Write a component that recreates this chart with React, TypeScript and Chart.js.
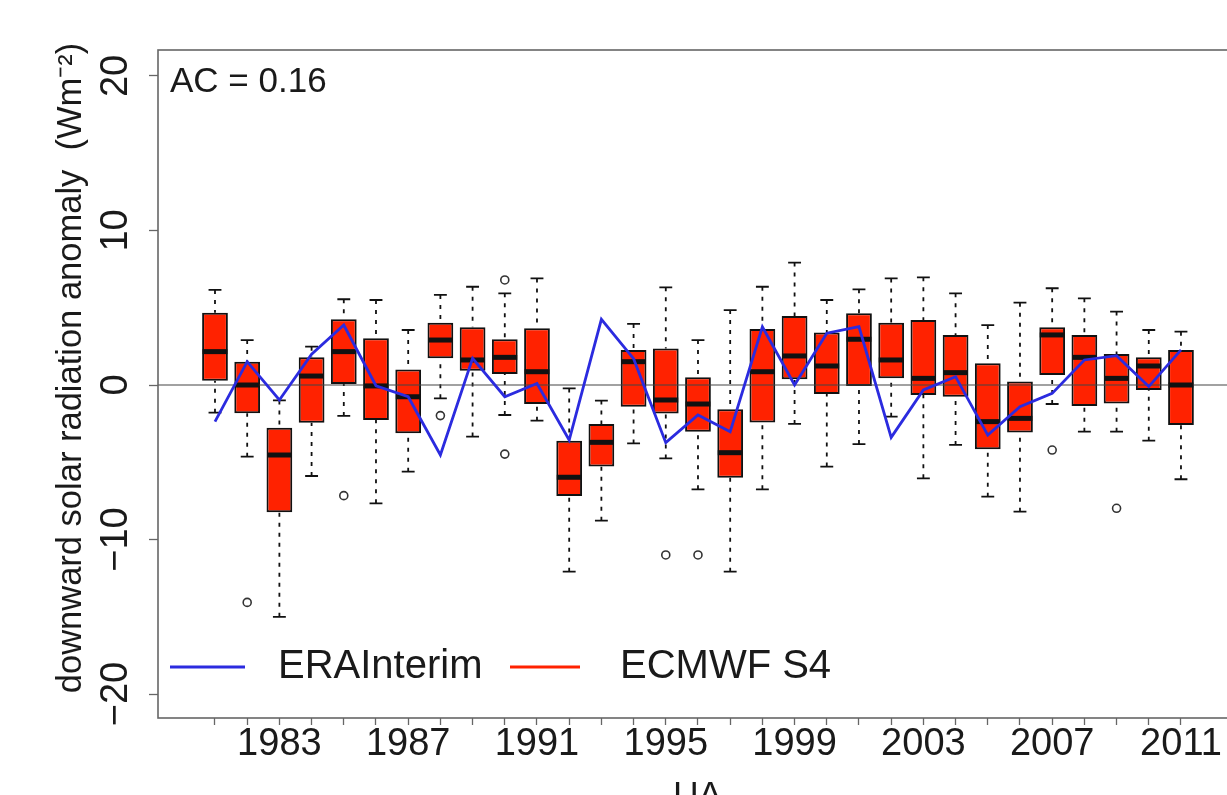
import { useEffect, useRef } from 'react';
import { Chart, registerables } from 'chart.js';

Chart.register(...registerables);

// ---------- data ----------
const years = [
  1981, 1982, 1983, 1984, 1985, 1986, 1987, 1988, 1989, 1990,
  1991, 1992, 1993, 1994, 1995, 1996, 1997, 1998, 1999, 2000,
  2001, 2002, 2003, 2004, 2005, 2006, 2007, 2008, 2009, 2010, 2011,
];
const whiskerHigh = [
  6.15, 2.91, -1.0, 2.48, 5.55, 5.5, 3.56, 5.83, 6.36, 5.93,
  6.9, -0.22, -1.01, 3.95, 6.32, 2.91, 4.85, 6.36, 7.92, 5.5,
  6.19, 6.9, 6.97, 5.93, 3.88, 5.33, 6.26, 5.61, 4.75, 3.56, 3.45,
];
const upperQuartile = [
  4.68, 1.51, -2.76, 1.79, 4.25, 3.02, 1.01, 4.03, 3.73, 2.96,
  3.67, -3.6, -2.52, 2.27, 2.37, 0.5, -1.57, 3.62, 4.47, 3.39,
  4.64, 4.03, 4.21, 3.24, 1.4, 0.22, 3.73, 3.24, 2.0, 1.79, 2.27,
];
const medians = [
  2.16, 0.0, -4.53, 0.58, 2.16, -0.06, -0.76, 2.91, 1.62, 1.79,
  0.86, -5.97, -3.71, 1.51, -0.97, -1.23, -4.38, 0.86, 1.88, 1.23,
  2.96, 1.62, 0.43, 0.8, -2.37, -2.16, 3.24, 1.79, 0.43, 1.23, 0.0,
];
const lowerQuartile = [
  0.28, -1.83, -8.24, -2.44, 0.06, -2.27, -3.13, 1.73, 0.93, 0.71,
  -1.23, -7.18, -5.28, -1.4, -1.84, -3.02, -6.0, -2.42, 0.37, -0.58,
  -0.06, 0.43, -0.65, -0.76, -4.16, -3.08, 0.65, -1.36, -1.19, -0.32, -2.59,
];
const whiskerLow = [
  -1.79, -4.64, -15.0, -5.89, -2.0, -7.66, -5.61, -0.86, -3.34, -1.94,
  -2.31, -12.08, -8.78, -3.78, -4.75, -6.75, -12.08, -6.75, -2.52, -5.28,
  -3.82, -2.05, -6.04, -3.88, -7.23, -8.2, -1.23, -3.02, -3.02, -3.6, -6.1,
];
const outlierYears = [1982, 1985, 1988, 1990, 1990, 1995, 1996, 2007, 2009];
const outlierValues = [-14.07, -7.16, -1.98, 6.8, -4.47, -11.0, -11.0, -4.21, -7.98];
const eraInterim = [
  -2.37, 1.51, -0.97, 2.0, 3.88, -0.05, -0.76, -4.53, 1.73, -0.76,
  0.1, -3.56, 4.25, 1.7, -3.73, -1.94, -3.02, 3.77, 0.0, 3.35,
  3.77, -3.39, -0.32, 0.54, -3.24, -1.4, -0.54, 1.62, 1.9, -0.1, 2.27,
];
const yTickValues = [-20, -10, 0, 10, 20];
const labelledYears = [1983, 1987, 1991, 1995, 1999, 2003, 2007, 2011];
const seriesNames = ['ERAInterim', 'ECMWF S4'];
const acLabel = 'AC = 0.16';
const yTitle = 'downward solar radiation anomaly  (Wm\u207B\u00B2)';
const xTitle = 'UA';

// ---------- styles ----------
const FONT = "'Liberation Sans', Arial, Helvetica, sans-serif";
const RED = '#ff2200';
const BLUE = '#2b2bdf';
const INK = '#1a1a1a';
const FRAME = '#666666';

const whiskerPlugin = {
  id: 'whiskers',
  beforeDatasetsDraw(chart: any) {
    const xs = chart.scales.x;
    const ys = chart.scales.y;
    const ctx = chart.ctx;
    const step = xs.getPixelForValue(years[1]) - xs.getPixelForValue(years[0]);
    const half = step * 0.8 * 0.25;
    ctx.save();
    ctx.strokeStyle = '#111';
    ctx.lineWidth = 1.8;
    years.forEach((yr, i) => {
      const x = xs.getPixelForValue(yr);
      const yHi = ys.getPixelForValue(whiskerHigh[i]);
      const yQ3 = ys.getPixelForValue(upperQuartile[i]);
      const yQ1 = ys.getPixelForValue(lowerQuartile[i]);
      const yLo = ys.getPixelForValue(whiskerLow[i]);
      ctx.setLineDash([4, 6]);
      ctx.beginPath();
      ctx.moveTo(x, yHi);
      ctx.lineTo(x, yQ3);
      ctx.moveTo(x, yLo);
      ctx.lineTo(x, yQ1);
      ctx.stroke();
      ctx.setLineDash([]);
      ctx.beginPath();
      ctx.moveTo(x - half, yHi);
      ctx.lineTo(x + half, yHi);
      ctx.moveTo(x - half, yLo);
      ctx.lineTo(x + half, yLo);
      ctx.stroke();
    });
    ctx.restore();
  },
  afterDatasetDraw(chart: any, args: any) {
    if (args.index !== 0) return;
    const { ctx, chartArea } = chart;
    const y0 = chart.scales.y.getPixelForValue(0);
    ctx.save();
    ctx.strokeStyle = '#444';
    ctx.lineWidth = 1.2;
    ctx.beginPath();
    ctx.moveTo(chartArea.left, y0);
    ctx.lineTo(chartArea.right, y0);
    ctx.stroke();
    ctx.restore();
  },
};

const framePlugin = {
  id: 'frameAndText',
  afterDraw(chart: any) {
    const { ctx, chartArea } = chart;
    ctx.save();
    ctx.strokeStyle = FRAME;
    ctx.lineWidth = 1.6;
    ctx.strokeRect(chartArea.left, chartArea.top, chartArea.right - chartArea.left, chartArea.bottom - chartArea.top);

    // y-axis title
    ctx.save();
    ctx.translate(71, chartArea.top + 318);
    ctx.rotate(-Math.PI / 2);
    ctx.fillStyle = INK;
    ctx.font = `34.5px ${FONT}`;
    ctx.textAlign = 'center';
    ctx.textBaseline = 'middle';
    ctx.fillText(yTitle, 0, 0);
    ctx.restore();

    // AC label
    ctx.fillStyle = INK;
    ctx.font = `35px ${FONT}`;
    ctx.textBaseline = 'alphabetic';
    ctx.textAlign = 'left';
    ctx.fillText(acLabel, chartArea.left + 12, chartArea.top + 42);

    // legend
    const ly = 667;
    const left = chartArea.left;
    ctx.lineWidth = 2.8;
    ctx.strokeStyle = BLUE;
    ctx.beginPath();
    ctx.moveTo(left + 12, ly);
    ctx.lineTo(left + 87, ly);
    ctx.stroke();
    ctx.strokeStyle = RED;
    ctx.beginPath();
    ctx.moveTo(left + 352, ly);
    ctx.lineTo(left + 422, ly);
    ctx.stroke();
    ctx.font = `40px ${FONT}`;
    ctx.textBaseline = 'middle';
    ctx.fillText(seriesNames[0], left + 120, ly);
    ctx.fillText(seriesNames[1], left + 462, ly);
    ctx.restore();
  },
};

export default function App() {
  const ref = useRef<HTMLCanvasElement>(null);

  useEffect(() => {
    const canvas = ref.current;
    if (!canvas) return;
    const chart = new Chart(canvas, {
      type: 'bar',
      data: {
        datasets: [
          {
            type: 'bar',
            label: seriesNames[1],
            data: years.map((yr, i) => ({ x: yr, y: [lowerQuartile[i], upperQuartile[i]] })) as any,
            backgroundColor: RED,
            borderColor: '#111',
            borderWidth: 2,
            borderSkipped: false,
            barPercentage: 0.8,
            categoryPercentage: 1.0,
            order: 4,
          } as any,
          {
            type: 'line',
            label: 'median',
            data: years.map((yr, i) => ({ x: yr, y: medians[i] })),
            showLine: false,
            pointStyle: 'line',
            pointRadius: 12.4,
            pointBorderWidth: 5,
            pointBorderColor: '#111',
            pointBackgroundColor: '#111',
            order: 3,
          } as any,
          {
            type: 'line',
            label: 'outliers',
            data: outlierYears.map((yr, i) => ({ x: yr, y: outlierValues[i] })),
            showLine: false,
            pointStyle: 'circle',
            pointRadius: 4,
            pointBorderWidth: 1.6,
            pointBorderColor: '#333',
            pointBackgroundColor: 'rgba(0,0,0,0)',
            order: 2,
          } as any,
          {
            type: 'line',
            label: seriesNames[0],
            data: years.map((yr, i) => ({ x: yr, y: eraInterim[i] })),
            borderColor: BLUE,
            borderWidth: 2.8,
            pointRadius: 0,
            tension: 0,
            fill: false,
            order: 1,
          } as any,
        ],
      },
      options: {
        responsive: false,
        devicePixelRatio: 1,
        animation: false,
        layout: { autoPadding: false, padding: { top: 50, right: 3, left: 0, bottom: 0 } },
        plugins: {
          legend: { display: false },
          tooltip: { enabled: false },
        },
        scales: {
          x: {
            type: 'linear',
            min: 1979.23,
            max: 2012.74,
            offset: false,
            afterBuildTicks: (scale: any) => {
              scale.ticks = years.map((v) => ({ value: v }));
            },
            afterFit: (scale: any) => {
              scale.height = 112;
              scale.paddingLeft = 0;
              scale.paddingRight = 0;
            },
            grid: {
              display: true,
              offset: false,
              drawOnChartArea: false,
              drawTicks: true,
              tickLength: 7,
              tickColor: FRAME,
              tickWidth: 1.3,
            },
            border: { display: false },
            ticks: {
              autoSkip: false,
              maxRotation: 0,
              minRotation: 0,
              padding: 1,
              color: INK,
              font: { family: FONT, size: 38, lineHeight: 1 },
              callback: (v: any) => (labelledYears.includes(Number(v)) ? String(v) : ''),
            },
            title: {
              display: true,
              text: xTitle,
              color: INK,
              font: { family: FONT, size: 35 },
              padding: { top: 0, bottom: 13 },
            },
          },
          y: {
            type: 'linear',
            position: 'left',
            min: -21.55,
            max: 21.68,
            afterBuildTicks: (scale: any) => {
              scale.ticks = yTickValues.map((v) => ({ value: v }));
            },
            afterFit: (scale: any) => {
              scale.width = 158;
            },
            grid: {
              display: true,
              drawOnChartArea: false,
              drawTicks: true,
              tickLength: 9,
              tickColor: FRAME,
              tickWidth: 1.3,
            },
            border: { display: false },
            ticks: {
              autoSkip: false,
              minRotation: 90,
              maxRotation: 90,
              crossAlign: 'center',
              padding: 0,
              color: INK,
              font: { family: FONT, size: 38, lineHeight: 1 },
              callback: (v: any) => {
                const n = Number(v);
                return n < 0 ? '\u2212' + String(Math.abs(n)) : String(n);
              },
            },
            title: { display: false },
          },
        },
      } as any,
      plugins: [whiskerPlugin, framePlugin],
    });
    return () => chart.destroy();
  }, []);

  return (
    <div
      style={{
        position: 'absolute',
        left: 0,
        top: 0,
        width: 1227,
        height: 795,
        overflow: 'hidden',
        background: '#ffffff',
      }}
    >
      <canvas ref={ref} width={1240} height={830} style={{ display: 'block', width: '1240px', height: '830px' }} />
    </div>
  );
}
